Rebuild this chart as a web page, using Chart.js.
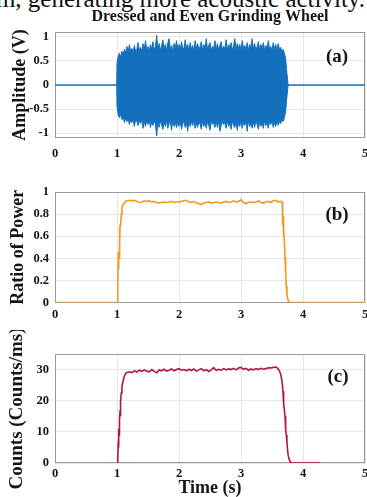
<!DOCTYPE html>
<html lang="en">
<head>
<meta charset="UTF-8">
<title>Dressed and Even Grinding Wheel</title>
<script src="https://cdn.jsdelivr.net/npm/chart.js@4.4.1/dist/chart.umd.min.js"></script>
<style>
  body { margin: 0; width: 367px; height: 497px; overflow: hidden; background: #fff; position: relative; font-family: 'Liberation Serif', serif; }
  .cut { position: absolute; right: 2px; top: -14px; font-size: 25px; line-height: 25px; white-space: nowrap; color: #111; }
  .panel { position: absolute; left: 0; width: 367px; }
  .panel canvas { display: block; }
</style>
</head>
<body>
<div class="cut">form, generating more acoustic activity.</div>
<div class="panel" style="top:0;height:160px"><canvas id="chartA"></canvas></div>
<div class="panel" style="top:160px;height:170px"><canvas id="chartB"></canvas></div>
<div class="panel" style="top:330px;height:167px"><canvas id="chartC"></canvas></div>

<script>
// ---- data ----
const chartTitle = 'Dressed and Even Grinding Wheel';
const xLabel = 'Time (s)';
const yLabels = ['Amplitude (V)', 'Ratio of Power', 'Counts (Counts/ms)'];
const panelLabels = ['(a)', '(b)', '(c)'];

const xTicks = [0, 1, 2, 3, 4, 5];
const yTicksA = [-1, -0.5, 0, 0.5, 1];
const yTicksB = [0, 0.2, 0.4, 0.6, 0.8, 1];
const yTicksC = [0, 10, 20, 30];

// (a) signal envelope (upper / lower peaks)
const tA = [0, 0.995,
  1.00, 1.02, 1.04, 1.06, 1.08, 1.10, 1.12, 1.14, 1.16, 1.18,
  1.20, 1.22, 1.24, 1.26, 1.28, 1.30, 1.32, 1.34, 1.36, 1.38,
  1.40, 1.42, 1.44, 1.46, 1.48, 1.50, 1.52, 1.54, 1.56, 1.58,
  1.60, 1.62, 1.64, 1.66, 1.68, 1.70, 1.72, 1.74, 1.76, 1.78,
  1.80, 1.82, 1.84, 1.86, 1.88, 1.90, 1.92, 1.94, 1.96, 1.98,
  2.00, 2.02, 2.04, 2.06, 2.08, 2.10, 2.12, 2.14, 2.16, 2.18,
  2.20, 2.22, 2.24, 2.26, 2.28, 2.30, 2.32, 2.34, 2.36, 2.38,
  2.40, 2.42, 2.44, 2.46, 2.48, 2.50, 2.52, 2.54, 2.56, 2.58,
  2.60, 2.62, 2.64, 2.66, 2.68, 2.70, 2.72, 2.74, 2.76, 2.78,
  2.80, 2.82, 2.84, 2.86, 2.88, 2.90, 2.92, 2.94, 2.96, 2.98,
  3.00, 3.02, 3.04, 3.06, 3.08, 3.10, 3.12, 3.14, 3.16, 3.18,
  3.20, 3.22, 3.24, 3.26, 3.28, 3.30, 3.32, 3.34, 3.36, 3.38,
  3.40, 3.42, 3.44, 3.46, 3.48, 3.50, 3.52, 3.54, 3.56, 3.58,
  3.60, 3.62, 3.64, 3.66, 3.68, 3.70, 3.72,
  3.74, 3.76, 5];
const aUp = [0, 0,
  0.45, 0.60, 0.66, 0.58, 0.70, 0.64, 0.74, 0.66, 0.80, 0.68,
  0.84, 0.70, 0.76, 0.68, 0.82, 0.70, 0.74, 0.88, 0.72, 0.78,
  0.70, 0.86, 0.74, 0.92, 0.72, 0.80, 0.70, 0.84, 0.74, 0.90,
  0.72, 0.80, 1.03, 0.74, 0.86, 0.72, 0.82, 0.94, 0.76, 0.84,
  0.72, 0.88, 0.96, 0.74, 0.82, 0.70, 0.86, 0.76, 0.92, 0.74,
  0.84, 0.72, 0.90, 0.78, 0.74, 0.94, 0.76, 0.84, 0.72, 0.88,
  0.74, 0.82, 0.72, 0.92, 0.76, 0.86, 0.74, 0.80, 0.90, 0.72,
  0.84, 0.76, 0.96, 0.74, 0.82, 0.88, 0.72, 0.80, 0.76, 0.92,
  0.74, 0.86, 0.72, 0.82, 0.90, 0.74, 0.80, 0.76, 0.94, 0.72,
  0.84, 0.78, 0.88, 0.72, 0.82, 0.96, 0.74, 0.86, 0.76, 0.84,
  0.72, 0.92, 0.76, 0.82, 0.74, 0.88, 0.72, 0.84, 0.78, 0.96,
  0.74, 0.86, 0.72, 0.80, 0.90, 0.74, 0.84, 0.76, 0.88, 0.72,
  0.82, 0.76, 0.92, 0.74, 0.80, 0.72, 0.88, 0.76, 0.84, 0.72,
  0.86, 0.74, 0.78, 0.70, 0.74, 0.66, 0.55,
  0.25, 0, 0];
const aLo = [0, 0,
  -0.45, -0.62, -0.68, -0.60, -0.72, -0.66, -0.78, -0.68, -0.76, -0.70,
  -0.82, -0.72, -0.78, -0.70, -0.86, -0.72, -0.76, -0.84, -0.74, -0.80,
  -0.72, -0.90, -0.76, -0.86, -0.74, -0.82, -0.72, -0.88, -0.76, -0.84,
  -0.74, -0.82, -1.06, -0.76, -0.88, -0.74, -0.84, -0.92, -0.78, -0.86,
  -0.74, -0.90, -0.80, -0.76, -0.94, -0.72, -0.86, -0.78, -0.88, -0.76,
  -0.86, -0.74, -0.92, -0.80, -0.76, -0.88, -0.78, -0.96, -0.74, -0.86,
  -0.76, -0.84, -0.74, -0.90, -0.78, -0.88, -0.76, -0.82, -0.92, -0.74,
  -0.86, -0.78, -0.90, -0.76, -0.84, -0.94, -0.74, -0.82, -0.78, -0.88,
  -0.76, -0.88, -0.74, -0.96, -0.84, -0.76, -0.82, -0.78, -0.90, -0.74,
  -0.86, -0.80, -0.92, -0.74, -0.84, -0.88, -0.76, -0.94, -0.78, -0.86,
  -0.74, -0.90, -0.78, -0.84, -0.76, -0.96, -0.74, -0.86, -0.80, -0.90,
  -0.76, -0.88, -0.74, -0.82, -0.92, -0.76, -0.86, -0.78, -0.90, -0.74,
  -0.84, -0.78, -0.90, -0.76, -0.82, -0.74, -0.88, -0.78, -0.86, -0.74,
  -0.84, -0.76, -0.80, -0.72, -0.76, -0.68, -0.55,
  -0.25, 0, 0];

// (b) ratio of power
const tB = [0, 1.00, 1.01, 1.015, 1.02, 1.025, 1.03, 1.035, 1.04, 1.045, 1.05, 1.06, 1.07, 1.08, 1.10, 1.13, 1.16, 1.20,
  1.24, 1.28, 1.32, 1.36, 1.40, 1.44, 1.48, 1.52, 1.56, 1.60,
  1.64, 1.68, 1.72, 1.76, 1.80, 1.84, 1.88, 1.92, 1.96, 2.00,
  2.04, 2.08, 2.12, 2.16, 2.20, 2.24, 2.28, 2.32, 2.36, 2.40,
  2.44, 2.48, 2.52, 2.56, 2.60, 2.64, 2.68, 2.72, 2.76, 2.80,
  2.84, 2.88, 2.92, 2.96, 3.00, 3.04, 3.08, 3.12, 3.16, 3.20,
  3.24, 3.28, 3.32, 3.36, 3.40, 3.44, 3.48, 3.52, 3.56, 3.60,
  3.64,
  3.665, 3.67, 3.675, 3.68, 3.685, 3.69, 3.70, 3.71, 3.72, 3.73, 3.74, 3.76, 3.78, 5];
const bVal = [0, 0, 0.18, 0.10, 0.46, 0.30, 0.42, 0.40, 0.68, 0.55, 0.70, 0.72, 0.80, 0.86, 0.89, 0.91, 0.92, 0.925,
  0.92, 0.925, 0.915, 0.905, 0.91, 0.92, 0.915, 0.92, 0.91, 0.915,
  0.905, 0.90, 0.905, 0.91, 0.905, 0.91, 0.915, 0.905, 0.91, 0.91,
  0.915, 0.92, 0.925, 0.91, 0.905, 0.915, 0.90, 0.895, 0.885, 0.90,
  0.905, 0.91, 0.90, 0.905, 0.91, 0.905, 0.90, 0.91, 0.915, 0.905,
  0.91, 0.92, 0.91, 0.915, 0.93, 0.905, 0.895, 0.905, 0.91, 0.905,
  0.91, 0.92, 0.905, 0.90, 0.91, 0.915, 0.905, 0.92, 0.925, 0.91,
  0.915,
  0.91, 0.82, 0.70, 0.78, 0.60, 0.65, 0.55, 0.40, 0.28, 0.15, 0.07, 0.02, 0, 0];

// (c) counts
const tC = [1.00, 1.01, 1.015, 1.02, 1.025, 1.03, 1.035, 1.04, 1.05, 1.055, 1.06, 1.07, 1.08, 1.10, 1.12, 1.15,
  1.20, 1.24, 1.28, 1.32, 1.36, 1.40, 1.44, 1.48, 1.52, 1.56,
  1.60, 1.64, 1.68, 1.72, 1.76, 1.80, 1.84, 1.88, 1.92, 1.96,
  2.00, 2.04, 2.08, 2.12, 2.16, 2.20, 2.24, 2.28, 2.32, 2.36,
  2.40, 2.44, 2.48, 2.52, 2.56, 2.60, 2.64, 2.68, 2.72, 2.76,
  2.80, 2.84, 2.88, 2.92, 2.96, 3.00, 3.04, 3.08, 3.12, 3.16,
  3.20, 3.24, 3.28, 3.32, 3.36, 3.40, 3.44, 3.48, 3.52, 3.56,
  3.58, 3.60, 3.62, 3.64, 3.66, 3.67, 3.68, 3.685, 3.69, 3.70, 3.71, 3.72, 3.73, 3.74, 3.75, 3.76, 3.78, 3.80, 3.82, 4.28];
const cVal = [0, 2.5, 1.5, 7, 5, 11, 9, 14, 17, 15, 20, 22.5, 24.5, 26.5, 28, 29,
  29.3, 29.0, 29.6, 29.2, 29.8, 29.4, 29.9, 29.5, 29.3, 30.0,
  29.4, 29.0, 29.9, 29.6, 30.1, 29.5, 29.8, 30.2, 29.6, 30.0,
  30.3, 29.8, 30.0, 29.6, 30.1, 29.7, 30.2, 29.5, 29.9, 30.3,
  29.6, 30.0, 29.4, 29.9, 30.6, 29.7, 30.1, 29.8, 30.3, 29.9,
  30.2, 30.0, 30.4, 29.9, 30.5, 30.7, 30.1, 30.4, 29.8, 30.2,
  29.9, 30.3, 30.0, 30.4, 30.1, 30.3, 30.6, 30.5, 30.7, 30.8,
  30.6, 30.2, 29.6, 28.5, 26.5, 24.5, 22, 23, 19, 17, 15, 11, 9, 7, 4.5, 2.5, 1.0, 0.2, 0, 0];

// ---- styling ----
const FAMILY = "'Liberation Serif', 'Times New Roman', serif";
const INK = '#151515';
const GRID = '#e6e6e6';
const FRAME = '#9a9a9a';
const tickFont = { family: FAMILY, size: 12.5, weight: 'bold' };

function pts(ts, vs) {
  return ts.map((t, i) => ({ x: t, y: vs[i] }));
}

// keep tick labels from pushing the plot box in
function noPad(s) {
  s.paddingLeft = 0; s.paddingRight = 0; s.paddingTop = 0; s.paddingBottom = 0;
}

function makeScales(o) {
  return {
    x: {
      type: 'linear', min: 0, max: 5,
      afterBuildTicks: s => { s.ticks = xTicks.map(v => ({ value: v })); },
      afterFit: s => { s.height = o.xh; noPad(s); },
      grid: { color: GRID, drawTicks: false },
      border: { display: false },
      ticks: { padding: o.xpad, color: INK, font: tickFont, maxRotation: 0, autoSkip: false, callback: v => String(v) },
      title: {
        display: !!o.xtitle, text: o.xtitle || '', color: INK,
        font: { family: FAMILY, size: 18, weight: 'bold', lineHeight: 1 }, padding: 0
      }
    },
    y: {
      type: 'linear', min: o.min, max: o.max,
      afterBuildTicks: s => { s.ticks = o.ticks.map(v => ({ value: v })); },
      afterFit: s => { s.width = 55; noPad(s); },
      grid: { color: GRID, drawTicks: false },
      border: { display: false },
      ticks: { padding: 6, color: INK, font: tickFont, autoSkip: false, callback: v => String(v) },
      title: {
        display: true, text: o.ytitle, color: INK,
        font: { family: FAMILY, size: o.ysize, weight: 'bold', lineHeight: 1 },
        padding: { top: o.ypad, bottom: 0 }
      }
    }
  };
}

// axes box + panel letter
const framePlugin = {
  id: 'frame',
  beforeDatasetsDraw(chart) {
    const { ctx, chartArea: a } = chart;
    ctx.save();
    ctx.strokeStyle = FRAME;
    ctx.lineWidth = 1;
    ctx.strokeRect(Math.round(a.left) + 0.5, Math.round(a.top) + 0.5, Math.round(a.width) - 1, Math.round(a.height) - 1);
    ctx.restore();
  },
  afterDraw(chart, args, opts) {
    const { ctx, chartArea: a } = chart;
    ctx.save();
    ctx.fillStyle = INK;
    ctx.font = 'bold 19px ' + FAMILY;
    ctx.textAlign = 'center';
    ctx.textBaseline = 'middle';
    ctx.fillText(opts.label, a.right + opts.dx, a.top + opts.dy);
    ctx.restore();
  }
};

const common = {
  responsive: true,
  maintainAspectRatio: false,
  animation: false,
  events: [],
  elements: { point: { radius: 0 }, line: { tension: 0 } }
};

// (a)
new Chart(document.getElementById('chartA'), {
  type: 'line',
  data: {
    datasets: [
      { data: pts(tA, aUp), borderColor: '#1470bd', backgroundColor: '#1470bd', borderWidth: 1, fill: '+1' },
      { data: pts(tA, aLo), borderColor: '#1470bd', borderWidth: 1, fill: false }
    ]
  },
  options: {
    ...common,
    layout: { padding: { left: 0, right: 2, top: 0, bottom: 0 }, autoPadding: false },
    scales: makeScales({ min: -1.1, max: 1.1, ticks: yTicksA, xh: 22, xpad: 8, ytitle: yLabels[0], ysize: 18, ypad: 11 }),
    plugins: {
      legend: { display: false },
      tooltip: { enabled: false },
      title: {
        display: true, text: chartTitle, color: INK, fullSize: false,
        font: { family: FAMILY, size: 16, weight: 'bold', lineHeight: 1.2 },
        padding: { top: 7, bottom: 5.8 }
      },
      frame: { label: panelLabels[0], dx: -28, dy: 25 }
    }
  },
  plugins: [framePlugin]
});

// (b)
new Chart(document.getElementById('chartB'), {
  type: 'line',
  data: {
    datasets: [
      { data: pts(tB, bVal), borderColor: '#ee9a22', borderWidth: 1.6, fill: false }
    ]
  },
  options: {
    ...common,
    layout: { padding: { left: 0, right: 2, top: 32, bottom: 0 }, autoPadding: false },
    scales: makeScales({ min: 0, max: 1, ticks: yTicksB, xh: 27.5, xpad: 4.5, ytitle: yLabels[1], ysize: 18, ypad: 9.5 }),
    plugins: {
      legend: { display: false },
      tooltip: { enabled: false },
      frame: { label: panelLabels[1], dx: -28, dy: 23 }
    }
  },
  plugins: [framePlugin]
});

// (c)
new Chart(document.getElementById('chartC'), {
  type: 'line',
  data: {
    datasets: [
      { data: pts(tC, cVal), borderColor: '#b0173f', borderWidth: 1.6, fill: false }
    ]
  },
  options: {
    ...common,
    layout: { padding: { left: 0, right: 2, top: 24, bottom: 0 }, autoPadding: false },
    scales: makeScales({ min: 0, max: 35, ticks: yTicksC, xh: 34, xpad: 3.5, xtitle: xLabel, ytitle: yLabels[2], ysize: 19, ypad: 7.5 }),
    plugins: {
      legend: { display: false },
      tooltip: { enabled: false },
      frame: { label: panelLabels[2], dx: -27, dy: 23 }
    }
  },
  plugins: [framePlugin]
});
</script>
</body>
</html>
